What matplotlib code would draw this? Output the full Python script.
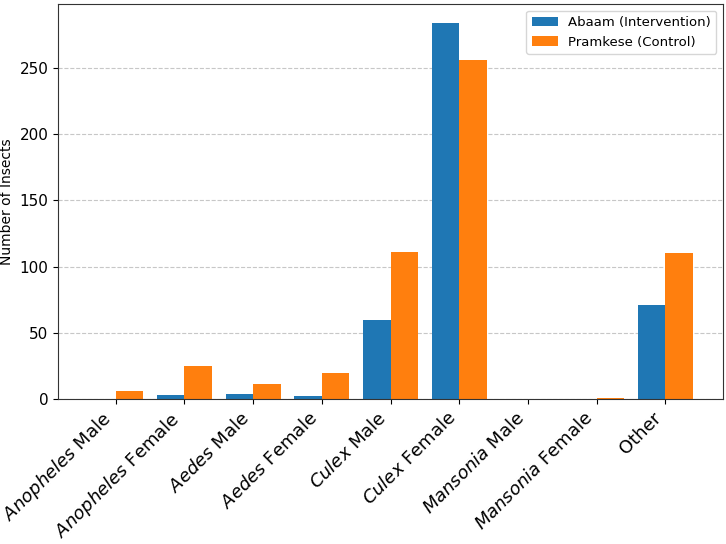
import matplotlib
matplotlib.use("Agg")
import matplotlib.pyplot as plt
import numpy as np

genera = ["Anopheles", "Anopheles", "Aedes", "Aedes", "Culex", "Culex", "Mansonia", "Mansonia", ""]
sexes = ["Male", "Female", "Male", "Female", "Male", "Female", "Male", "Female", "Other"]
abaam = [0, 3, 4, 2, 60, 284, 0, 0, 71]
pramkese = [6, 25, 11, 20, 111, 256, 0, 1, 110]
series_names = ["Abaam (Intervention)", "Pramkese (Control)"]

labels = []
for g, s in zip(genera, sexes):
    if g:
        labels.append(r"$\it{" + g + "}$ " + s)
    else:
        labels.append(s)

fig = plt.figure(figsize=(7.26, 5.44), dpi=100)
ax = fig.add_axes([0.080, 0.2665, 0.916, 0.726])

x = np.arange(len(labels))
w = 0.4
ax.bar(x - w / 2, abaam, w, color="#1f77b4", label=series_names[0])
ax.bar(x + w / 2, pramkese, w, color="#ff7f0e", label=series_names[1])

ax.set_xticks(x)
ax.set_xticklabels(labels, rotation=45, ha="right", fontsize=13)
ax.set_ylabel("Number of Insects", fontsize=10)
ax.tick_params(axis="y", labelsize=11)
for sp in ax.spines.values():
    sp.set_color("#333333")
ax.yaxis.grid(True, linestyle="--", alpha=0.7)
ax.set_axisbelow(True)
ax.legend(loc="upper right", fontsize=9.5)

fig.savefig("out.png", dpi=100)
